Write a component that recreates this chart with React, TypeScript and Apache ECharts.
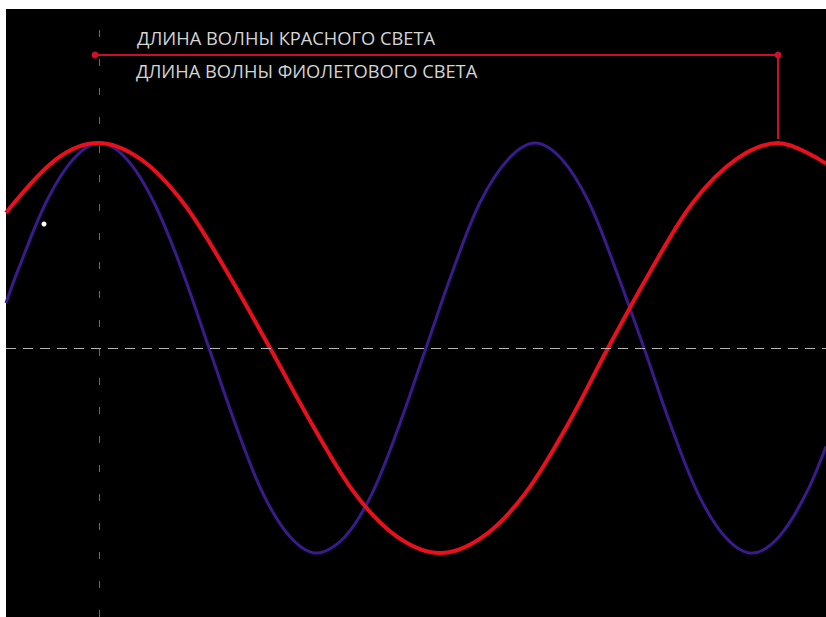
import React, { useEffect, useRef } from "react";
import * as echarts from "echarts";

// Red wave: [x position, relative amplitude]
const redX = [6, 56, 98, 141, 183, 226, 270, 313, 355, 397, 440, 483, 525, 567, 608, 651, 693, 736, 778, 826];
const redY = [0.66, 0.92, 1, 0.92, 0.71, 0.38, 0, -0.38, -0.71, -0.92, -1, -0.92, -0.71, -0.38, 0, 0.38, 0.71, 0.92, 1, 0.9];

// Violet wave
const violetX = [6, 18, 46, 73, 100, 127, 154, 182, 209, 236, 263, 290, 317, 345, 372, 399, 426, 453, 480, 508, 535, 562, 589, 616, 644, 671, 698, 725, 752, 779, 806, 826];
const violetY = [0.22, 0.38, 0.71, 0.92, 1, 0.92, 0.71, 0.38, 0, -0.38, -0.71, -0.92, -1, -0.92, -0.71, -0.38, 0, 0.38, 0.71, 0.92, 1, 0.92, 0.71, 0.38, 0, -0.38, -0.71, -0.92, -1, -0.92, -0.71, -0.48];

// Wavelength bracket
const bracketX = [95, 778, 778];
const bracketY = [1.43, 1.43, 1.02];

const labels = ["ДЛИНА ВОЛНЫ КРАСНОГО СВЕТА", "ДЛИНА ВОЛНЫ ФИОЛЕТОВОГО СВЕТА"];
const crestX = 99;

export default function App() {
  const ref = useRef<HTMLDivElement>(null);
  useEffect(() => {
    const chart = echarts.init(ref.current!, null, { renderer: "svg" });
    const zip = (xs: number[], ys: number[]) => xs.map((x, i) => [x, ys[i]]);
    chart.setOption({
      animation: false,
      backgroundColor: "#ffffff",
      grid: { left: 6, top: 9, right: 0, bottom: 0, show: true, backgroundColor: "#000000", borderWidth: 0 },
      xAxis: { type: "value", min: 6, max: 826, show: false },
      yAxis: { type: "value", min: -1.312, max: 1.654, show: false },
      series: [
        {
          type: "line",
          data: [],
          silent: true,
          markLine: {
            symbol: "none",
            silent: true,
            label: { show: false },
            data: [
              { yAxis: 0, lineStyle: { color: "#b4b4b4", width: 1, type: [10, 7] } },
              { xAxis: crestX, lineStyle: { color: "#6a6a6a", width: 1, type: [7, 22] } },
            ],
          },
        },
        {
          type: "line",
          data: zip(violetX, violetY),
          smooth: 0.34,
          showSymbol: false,
          lineStyle: { color: "#3a1b8c", width: 3 },
        },
        {
          type: "line",
          data: zip(redX, redY),
          smooth: 0.34,
          showSymbol: false,
          lineStyle: { color: "#e8101c", width: 4 },
        },
        {
          type: "line",
          data: bracketX.map((x, i) =>
            i < 2 ? { value: [x, bracketY[i]] } : { value: [x, bracketY[i]], symbol: "none" }
          ),
          symbol: "circle",
          symbolSize: 7,
          showSymbol: true,
          itemStyle: { color: "#d0102a" },
          lineStyle: { color: "#c8102a", width: 2 },
        },
      ],
      graphic: [
        {
          type: "text",
          left: 137,
          top: 28,
          style: { text: labels[0], fill: "#d4d4d4", font: "18.3px 'Open Sans'" },
        },
        {
          type: "text",
          left: 136,
          top: 61,
          style: { text: labels[1], fill: "#d4d4d4", font: "18.3px 'Open Sans'" },
        },
        {
          type: "circle",
          shape: { cx: 44, cy: 224, r: 2.5 },
          style: { fill: "#ffffff" },
        },
      ],
    });
    return () => chart.dispose();
  }, []);
  return (
    <div style={{ position: "fixed", left: 0, top: 0, width: 826, height: 617, background: "#fff" }}>
      <div ref={ref} style={{ width: 826, height: 617 }} />
    </div>
  );
}
